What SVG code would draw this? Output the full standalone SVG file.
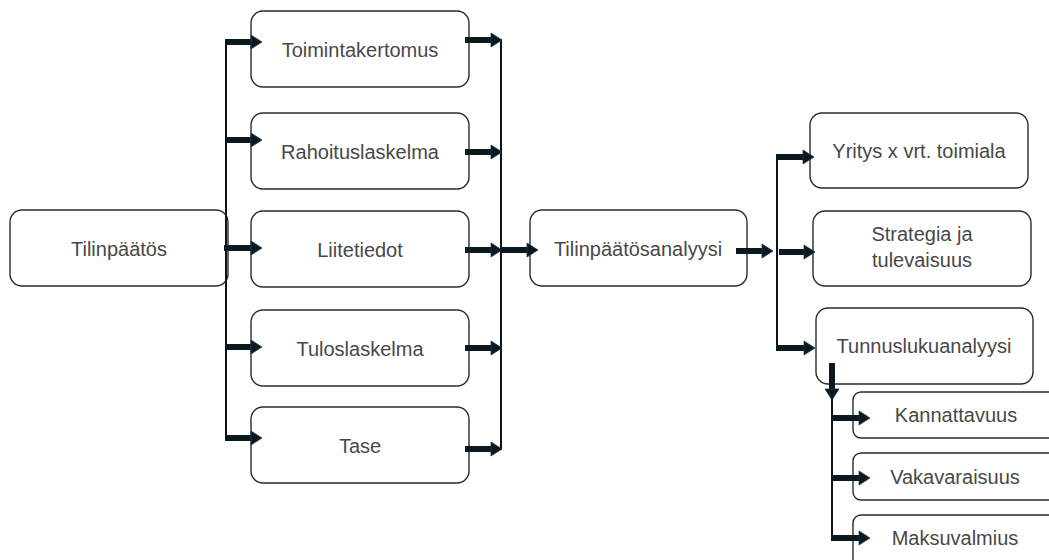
<svg xmlns="http://www.w3.org/2000/svg" width="1049" height="560" viewBox="0 0 1049 560">
<style>
.box{fill:#fff;stroke:#2b2b2b;stroke-width:1.4}
.t{font-family:"Liberation Sans",Arial,sans-serif;font-size:20px;fill:#484848;text-anchor:middle}
.thin{stroke:#111;stroke-width:2;fill:none}
.arr{stroke:#0c1820;stroke-width:6;fill:none;marker-end:url(#ah)}
</style>
<defs>
<marker id="ah" markerUnits="userSpaceOnUse" markerWidth="12" markerHeight="16" refX="0" refY="8" orient="auto" overflow="visible">
<path d="M0,1 L11,8 L0,15 z" fill="#0c1820" stroke="#1e3a4a" stroke-width="0.8"/>
</marker>
</defs>
<rect width="1049" height="560" fill="#fff"/>
<g id="tilinpaatos"><rect class="box" x="10" y="210" width="218" height="76" rx="12"/><text class="t" x="119" y="256">Tilinpäätös</text></g>
<g id="toimintakertomus"><rect class="box" x="251" y="11" width="218" height="76" rx="12"/><text class="t" x="360" y="57">Toimintakertomus</text></g>
<g id="rahoituslaskelma"><rect class="box" x="251" y="113" width="218" height="76" rx="12"/><text class="t" x="360" y="159">Rahoituslaskelma</text></g>
<g id="liitetiedot"><rect class="box" x="251" y="211" width="218" height="76" rx="12"/><text class="t" x="360" y="257">Liitetiedot</text></g>
<g id="tuloslaskelma"><rect class="box" x="251" y="310" width="218" height="76" rx="12"/><text class="t" x="360" y="356">Tuloslaskelma</text></g>
<g id="tase"><rect class="box" x="251" y="407" width="218" height="76" rx="12"/><text class="t" x="360" y="453">Tase</text></g>
<g id="tilinpaatosanalyysi"><rect class="box" x="530" y="210" width="217" height="76" rx="12"/><text class="t" x="638" y="256">Tilinpäätösanalyysi</text></g>
<g id="yritys"><rect class="box" x="810" y="113" width="218" height="75" rx="12"/><text class="t" x="919" y="158">Yritys x vrt. toimiala</text></g>
<g id="strategia"><rect class="box" x="813" y="211" width="218" height="75" rx="12"/><text class="t" x="922" y="241">Strategia ja</text><text class="t" x="922" y="267">tulevaisuus</text></g>
<g id="tunnusluku"><rect class="box" x="816" y="308" width="217" height="76" rx="12"/><text class="t" x="924" y="353">Tunnuslukuanalyysi</text></g>
<g id="kannattavuus"><rect class="box" x="853" y="392" width="220" height="46" rx="8"/><text class="t" x="956" y="422">Kannattavuus</text></g>
<g id="vakavaraisuus"><rect class="box" x="853" y="453" width="220" height="47" rx="8"/><text class="t" x="955" y="484">Vakavaraisuus</text></g>
<g id="maksuvalmius"><rect class="box" x="853" y="515" width="220" height="60" rx="8"/><text class="t" x="955" y="545">Maksuvalmius</text></g>
<g id="connectors">
<line class="thin" x1="226" y1="41" x2="226" y2="439"/>
<line class="thin" x1="501" y1="39" x2="501" y2="450"/>
<line class="thin" x1="777" y1="156" x2="777" y2="349"/>
<line class="thin" x1="832" y1="398" x2="832" y2="539"/>
<line class="arr" x1="225" y1="42" x2="251" y2="42"/>
<line class="arr" x1="225" y1="140" x2="251" y2="140"/>
<line class="arr" x1="224" y1="248" x2="251" y2="248"/>
<line class="arr" x1="225" y1="347" x2="251" y2="347"/>
<line class="arr" x1="225" y1="438" x2="251" y2="438"/>
<line class="arr" x1="465" y1="40" x2="491" y2="40"/>
<line class="arr" x1="465" y1="152" x2="491" y2="152"/>
<line class="arr" x1="465" y1="250" x2="491" y2="250"/>
<line class="arr" x1="465" y1="348" x2="491" y2="348"/>
<line class="arr" x1="465" y1="449" x2="491" y2="449"/>
<line class="arr" x1="500" y1="250" x2="527" y2="250"/>
<line class="arr" x1="736" y1="251" x2="762" y2="251"/>
<line class="arr" x1="779" y1="252" x2="804" y2="252"/>
<line class="arr" x1="776" y1="157" x2="803" y2="157"/>
<line class="arr" x1="776" y1="348" x2="804" y2="348"/>
<line class="arr" x1="832" y1="363" x2="832" y2="389"/>
<line class="arr" x1="831" y1="418" x2="859" y2="418"/>
<line class="arr" x1="831" y1="478" x2="859" y2="478"/>
<line class="arr" x1="831" y1="538" x2="859" y2="538"/>
</g>
</svg>
